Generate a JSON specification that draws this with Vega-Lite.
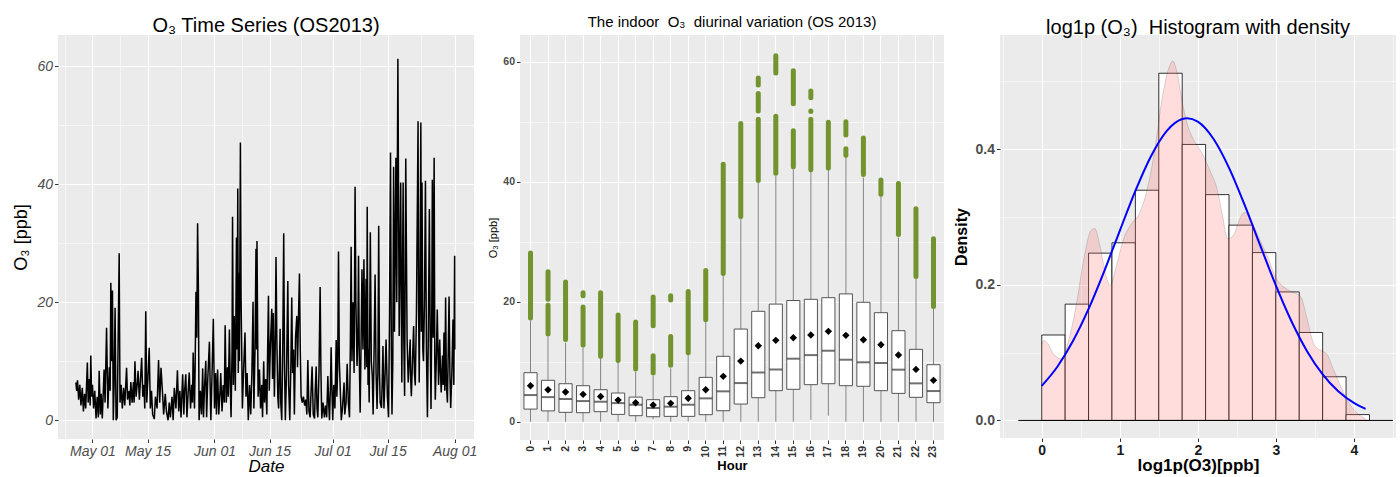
{
"$schema": "https://vega.github.io/schema/vega-lite/v6.json",
"padding": {"left": 12, "top": 15, "right": 0, "bottom": 0},
"bounds": "flush",
"spacing": 0,
"config": {
 "font": "Liberation Sans",
 "view": {"stroke": null},
 "axis": {"domain": false, "gridColor": "#FFFFFF", "tickColor": "#333333", "tickSize": 3.5, "labelColor": "#4D4D4D", "titleColor": "#000000", "labelFont": "Liberation Sans", "titleFont": "Liberation Sans", "labelPadding": 2, "labelOverlap": false},
 "title": {"font": "Liberation Sans", "fontWeight": "normal", "color": "#000000", "anchor": "middle"}
},
"datasets": {
 "ts": [
{"t":"2013-04-26T19:00","v":6.4},{"t":"2013-04-27T00:00","v":5.0},{"t":"2013-04-27T05:00","v":6.8},{"t":"2013-04-27T12:00","v":3.5},{"t":"2013-04-27T19:00","v":6.0},{"t":"2013-04-28T02:00","v":2.5},{"t":"2013-04-28T10:00","v":5.5},{"t":"2013-04-28T17:00","v":1.5},{"t":"2013-04-29T00:00","v":4.5},{"t":"2013-04-29T07:00","v":2.0},{"t":"2013-04-29T17:00","v":9.8},{"t":"2013-04-29T22:00","v":3.0},{"t":"2013-04-30T05:00","v":7.0},{"t":"2013-04-30T10:00","v":2.5},{"t":"2013-04-30T14:00","v":11.0},{"t":"2013-04-30T19:00","v":4.0},
{"t":"2013-05-01T00:00","v":6.0},{"t":"2013-05-01T07:00","v":2.0},{"t":"2013-05-01T14:00","v":5.0},{"t":"2013-05-01T22:00","v":0.3},{"t":"2013-05-02T05:00","v":4.0},{"t":"2013-05-02T12:00","v":0.5},{"t":"2013-05-02T17:00","v":8.4},{"t":"2013-05-03T00:00","v":1.0},{"t":"2013-05-03T05:00","v":4.5},{"t":"2013-05-03T12:00","v":0.3},{"t":"2013-05-03T23:00","v":8.6},{"t":"2013-05-04T05:00","v":3.0},{"t":"2013-05-04T14:00","v":15.7},{"t":"2013-05-04T22:00","v":2.0},{"t":"2013-05-05T07:00","v":9.0},{"t":"2013-05-05T12:00","v":5.0},{"t":"2013-05-05T16:00","v":23.3},{"t":"2013-05-05T22:00","v":10.0},{"t":"2013-05-06T02:00","v":22.0},{"t":"2013-05-06T07:00","v":0.0},{"t":"2013-05-06T12:00","v":6.0},{"t":"2013-05-06T18:00","v":19.1},{"t":"2013-05-07T00:00","v":0.0},{"t":"2013-05-07T07:00","v":0.5},{"t":"2013-05-07T19:00","v":28.3},{"t":"2013-05-08T00:00","v":3.0},{"t":"2013-05-08T07:00","v":6.0},{"t":"2013-05-08T14:00","v":2.0},{"t":"2013-05-08T22:00","v":5.5},{"t":"2013-05-09T05:00","v":2.5},{"t":"2013-05-09T16:00","v":8.9},{"t":"2013-05-09T22:00","v":3.5},{"t":"2013-05-10T07:00","v":5.0},{"t":"2013-05-10T12:00","v":2.5},{"t":"2013-05-10T18:00","v":6.5},{"t":"2013-05-11T02:00","v":3.0},{"t":"2013-05-11T10:00","v":6.5},{"t":"2013-05-11T14:00","v":3.0},{"t":"2013-05-11T19:00","v":10.0},{"t":"2013-05-12T02:00","v":4.0},{"t":"2013-05-12T10:00","v":6.5},{"t":"2013-05-12T14:00","v":8.4},{"t":"2013-05-12T22:00","v":3.5},{"t":"2013-05-13T05:00","v":7.0},{"t":"2013-05-13T12:00","v":10.6},{"t":"2013-05-13T19:00","v":4.0},{"t":"2013-05-14T02:00","v":6.0},{"t":"2013-05-14T07:00","v":2.0},{"t":"2013-05-14T13:00","v":18.5},{"t":"2013-05-14T19:00","v":3.0},{"t":"2013-05-15T02:00","v":7.0},{"t":"2013-05-15T10:00","v":12.3},{"t":"2013-05-15T17:00","v":2.0},{"t":"2013-05-16T00:00","v":5.0},{"t":"2013-05-16T07:00","v":1.0},{"t":"2013-05-16T17:00","v":0.2},{"t":"2013-05-17T00:00","v":4.0},{"t":"2013-05-17T10:00","v":2.0},{"t":"2013-05-17T19:00","v":10.2},{"t":"2013-05-18T02:00","v":3.0},{"t":"2013-05-18T10:00","v":8.9},{"t":"2013-05-18T19:00","v":4.7},{"t":"2013-05-19T02:00","v":1.0},{"t":"2013-05-19T12:00","v":4.5},{"t":"2013-05-19T19:00","v":1.5},{"t":"2013-05-20T05:00","v":0.0},{"t":"2013-05-20T12:00","v":3.0},{"t":"2013-05-20T19:00","v":0.5},{"t":"2013-05-21T05:00","v":4.0},{"t":"2013-05-21T12:00","v":0.0},{"t":"2013-05-21T19:00","v":5.5},{"t":"2013-05-22T05:00","v":2.0},{"t":"2013-05-22T14:00","v":8.5},{"t":"2013-05-22T22:00","v":1.5},{"t":"2013-05-23T05:00","v":5.0},{"t":"2013-05-23T12:00","v":0.5},{"t":"2013-05-23T22:00","v":7.8},{"t":"2013-05-24T05:00","v":1.0},{"t":"2013-05-24T10:00","v":5.0},{"t":"2013-05-24T17:00","v":7.8},{"t":"2013-05-25T00:00","v":0.5},{"t":"2013-05-25T07:00","v":4.5},{"t":"2013-05-25T14:00","v":8.1},{"t":"2013-05-25T22:00","v":2.0},{"t":"2013-05-26T05:00","v":6.0},{"t":"2013-05-26T10:00","v":3.0},{"t":"2013-05-26T14:00","v":11.5},{"t":"2013-05-26T22:00","v":2.0},{"t":"2013-05-27T02:00","v":9.0},{"t":"2013-05-27T07:00","v":21.8},{"t":"2013-05-27T12:00","v":14.0},{"t":"2013-05-27T17:00","v":33.4},{"t":"2013-05-27T22:00","v":22.0},{"t":"2013-05-28T02:00","v":0.0},{"t":"2013-05-28T10:00","v":5.0},{"t":"2013-05-28T17:00","v":1.0},{"t":"2013-05-29T00:00","v":8.8},{"t":"2013-05-29T05:00","v":0.5},{"t":"2013-05-29T12:00","v":6.0},{"t":"2013-05-29T19:00","v":10.1},{"t":"2013-05-30T00:00","v":0.5},{"t":"2013-05-30T07:00","v":7.0},{"t":"2013-05-30T17:00","v":13.3},{"t":"2013-05-31T00:00","v":2.0},{"t":"2013-05-31T02:00","v":0.0},{"t":"2013-05-31T10:00","v":9.0},{"t":"2013-05-31T17:00","v":17.2},
{"t":"2013-06-01T00:00","v":2.0},{"t":"2013-06-01T07:00","v":8.0},{"t":"2013-06-01T12:00","v":1.0},{"t":"2013-06-01T19:00","v":8.6},{"t":"2013-06-02T02:00","v":1.0},{"t":"2013-06-02T10:00","v":5.0},{"t":"2013-06-02T14:00","v":8.0},{"t":"2013-06-02T22:00","v":1.5},{"t":"2013-06-03T05:00","v":6.0},{"t":"2013-06-03T12:00","v":3.0},{"t":"2013-06-03T17:00","v":16.1},{"t":"2013-06-04T00:00","v":3.0},{"t":"2013-06-04T07:00","v":9.0},{"t":"2013-06-04T12:00","v":4.0},{"t":"2013-06-04T19:00","v":15.4},{"t":"2013-06-05T00:00","v":6.0},{"t":"2013-06-05T05:00","v":0.5},{"t":"2013-06-05T11:00","v":12.0},{"t":"2013-06-05T14:00","v":34.5},{"t":"2013-06-05T19:00","v":6.0},{"t":"2013-06-06T00:00","v":17.7},{"t":"2013-06-06T07:00","v":5.0},{"t":"2013-06-06T14:00","v":31.0},{"t":"2013-06-06T18:00","v":12.0},{"t":"2013-06-06T22:00","v":39.3},{"t":"2013-06-07T01:00","v":8.0},{"t":"2013-06-07T05:00","v":25.0},{"t":"2013-06-07T08:00","v":10.0},{"t":"2013-06-07T14:00","v":47.1},{"t":"2013-06-07T18:00","v":21.0},{"t":"2013-06-07T22:00","v":12.0},{"t":"2013-06-08T02:00","v":2.0},{"t":"2013-06-08T10:00","v":9.0},{"t":"2013-06-08T18:00","v":14.9},{"t":"2013-06-09T00:00","v":4.0},{"t":"2013-06-09T07:00","v":8.0},{"t":"2013-06-09T14:00","v":0.0},{"t":"2013-06-09T22:00","v":6.0},{"t":"2013-06-10T05:00","v":1.0},{"t":"2013-06-10T12:00","v":8.0},{"t":"2013-06-10T19:00","v":20.1},{"t":"2013-06-11T00:00","v":2.0},{"t":"2013-06-11T07:00","v":12.0},{"t":"2013-06-11T13:00","v":29.1},{"t":"2013-06-11T17:00","v":12.0},{"t":"2013-06-11T19:00","v":30.4},{"t":"2013-06-12T02:00","v":4.0},{"t":"2013-06-12T10:00","v":8.6},{"t":"2013-06-12T17:00","v":2.0},{"t":"2013-06-13T00:00","v":6.0},{"t":"2013-06-13T05:00","v":0.5},{"t":"2013-06-13T12:00","v":10.0},{"t":"2013-06-13T17:00","v":3.0},{"t":"2013-06-14T00:00","v":7.0},{"t":"2013-06-14T07:00","v":1.0},{"t":"2013-06-14T12:00","v":12.0},{"t":"2013-06-14T17:00","v":21.1},{"t":"2013-06-14T22:00","v":5.0},{"t":"2013-06-15T05:00","v":13.0},{"t":"2013-06-15T13:00","v":18.9},{"t":"2013-06-15T18:00","v":7.0},{"t":"2013-06-15T23:00","v":18.2},{"t":"2013-06-16T05:00","v":4.0},{"t":"2013-06-16T10:00","v":12.0},{"t":"2013-06-16T15:00","v":27.7},{"t":"2013-06-16T20:00","v":14.0},{"t":"2013-06-17T02:00","v":4.0},{"t":"2013-06-17T07:00","v":2.0},{"t":"2013-06-17T16:00","v":15.5},{"t":"2013-06-17T20:00","v":3.0},{"t":"2013-06-18T02:00","v":0.0},{"t":"2013-06-18T08:00","v":12.0},{"t":"2013-06-18T14:00","v":31.7},{"t":"2013-06-18T19:00","v":9.0},{"t":"2013-06-19T00:00","v":0.0},{"t":"2013-06-19T07:00","v":8.0},{"t":"2013-06-19T15:00","v":23.6},{"t":"2013-06-19T20:00","v":6.0},{"t":"2013-06-20T03:00","v":0.0},{"t":"2013-06-20T10:00","v":10.0},{"t":"2013-06-20T15:00","v":20.8},{"t":"2013-06-20T20:00","v":8.0},{"t":"2013-06-21T02:00","v":12.0},{"t":"2013-06-21T07:00","v":1.0},{"t":"2013-06-21T14:00","v":14.0},{"t":"2013-06-21T22:00","v":17.7},{"t":"2013-06-22T02:00","v":9.0},{"t":"2013-06-22T10:00","v":20.0},{"t":"2013-06-22T14:00","v":24.9},{"t":"2013-06-22T19:00","v":12.0},{"t":"2013-06-23T00:00","v":4.1},{"t":"2013-06-23T07:00","v":3.0},{"t":"2013-06-23T14:00","v":4.0},{"t":"2013-06-23T22:00","v":2.5},{"t":"2013-06-24T05:00","v":3.5},{"t":"2013-06-24T11:00","v":1.0},{"t":"2013-06-24T17:00","v":10.2},{"t":"2013-06-25T00:00","v":1.5},{"t":"2013-06-25T07:00","v":0.5},{"t":"2013-06-25T13:00","v":5.0},{"t":"2013-06-25T19:00","v":9.1},{"t":"2013-06-26T02:00","v":1.0},{"t":"2013-06-26T10:00","v":0.3},{"t":"2013-06-26T14:00","v":5.0},{"t":"2013-06-26T20:00","v":9.1},{"t":"2013-06-27T01:00","v":2.0},{"t":"2013-06-27T06:00","v":0.5},{"t":"2013-06-27T13:00","v":8.0},{"t":"2013-06-27T20:00","v":22.6},{"t":"2013-06-28T01:00","v":8.0},{"t":"2013-06-28T06:00","v":0.3},{"t":"2013-06-28T14:00","v":3.0},{"t":"2013-06-28T22:00","v":0.5},{"t":"2013-06-29T05:00","v":2.5},{"t":"2013-06-29T12:00","v":0.5},{"t":"2013-06-29T19:00","v":7.5},{"t":"2013-06-30T00:00","v":3.0},{"t":"2013-06-30T05:00","v":0.0},{"t":"2013-06-30T11:00","v":6.0},{"t":"2013-06-30T15:00","v":12.4},{"t":"2013-06-30T20:00","v":5.0},
{"t":"2013-07-01T01:00","v":0.0},{"t":"2013-07-01T07:00","v":6.0},{"t":"2013-07-01T14:00","v":2.0},{"t":"2013-07-01T22:00","v":13.6},{"t":"2013-07-02T02:00","v":4.0},{"t":"2013-07-02T07:00","v":9.0},{"t":"2013-07-02T12:00","v":28.6},{"t":"2013-07-02T17:00","v":10.0},{"t":"2013-07-02T23:00","v":5.0},{"t":"2013-07-03T05:00","v":0.0},{"t":"2013-07-03T12:00","v":2.0},{"t":"2013-07-03T22:00","v":6.4},{"t":"2013-07-04T02:00","v":1.0},{"t":"2013-07-04T10:00","v":3.0},{"t":"2013-07-04T17:00","v":9.6},{"t":"2013-07-05T00:00","v":3.0},{"t":"2013-07-05T07:00","v":0.5},{"t":"2013-07-05T12:00","v":12.0},{"t":"2013-07-05T17:00","v":29.4},{"t":"2013-07-05T22:00","v":10.0},{"t":"2013-07-06T05:00","v":20.0},{"t":"2013-07-06T11:00","v":8.0},{"t":"2013-07-06T17:00","v":39.6},{"t":"2013-07-06T22:00","v":20.0},{"t":"2013-07-07T05:00","v":9.2},{"t":"2013-07-07T10:00","v":14.0},{"t":"2013-07-07T14:00","v":27.9},{"t":"2013-07-07T19:00","v":10.0},{"t":"2013-07-08T00:00","v":1.3},{"t":"2013-07-08T05:00","v":12.0},{"t":"2013-07-08T11:00","v":25.6},{"t":"2013-07-08T17:00","v":12.0},{"t":"2013-07-08T23:00","v":27.3},{"t":"2013-07-09T05:00","v":8.6},{"t":"2013-07-09T12:00","v":24.0},{"t":"2013-07-09T16:00","v":9.0},{"t":"2013-07-09T19:00","v":36.2},{"t":"2013-07-10T00:00","v":6.0},{"t":"2013-07-10T02:00","v":12.0},{"t":"2013-07-10T07:00","v":3.0},{"t":"2013-07-10T14:00","v":31.9},{"t":"2013-07-10T20:00","v":10.0},{"t":"2013-07-11T02:00","v":7.5},{"t":"2013-07-11T07:00","v":1.0},{"t":"2013-07-11T13:00","v":12.0},{"t":"2013-07-11T19:00","v":24.7},{"t":"2013-07-12T01:00","v":8.0},{"t":"2013-07-12T07:00","v":1.9},{"t":"2013-07-12T12:00","v":8.0},{"t":"2013-07-12T17:00","v":33.0},{"t":"2013-07-12T22:00","v":8.0},{"t":"2013-07-13T02:00","v":3.0},{"t":"2013-07-13T10:00","v":2.1},{"t":"2013-07-13T14:00","v":6.0},{"t":"2013-07-13T19:00","v":12.6},{"t":"2013-07-14T01:00","v":2.0},{"t":"2013-07-14T07:00","v":7.0},{"t":"2013-07-14T14:00","v":13.7},{"t":"2013-07-14T22:00","v":4.0},{"t":"2013-07-15T05:00","v":0.5},{"t":"2013-07-15T11:00","v":18.0},{"t":"2013-07-15T17:00","v":45.4},{"t":"2013-07-15T22:00","v":12.0},{"t":"2013-07-16T02:00","v":1.0},{"t":"2013-07-16T07:00","v":10.0},{"t":"2013-07-16T12:00","v":43.0},{"t":"2013-07-16T17:00","v":15.0},{"t":"2013-07-17T02:00","v":44.5},{"t":"2013-07-17T07:00","v":20.0},{"t":"2013-07-17T14:00","v":61.3},{"t":"2013-07-17T22:00","v":14.3},{"t":"2013-07-18T02:00","v":25.0},{"t":"2013-07-18T07:00","v":40.3},{"t":"2013-07-18T14:00","v":6.4},{"t":"2013-07-18T22:00","v":40.3},{"t":"2013-07-19T02:00","v":14.0},{"t":"2013-07-19T07:00","v":4.1},{"t":"2013-07-19T14:00","v":44.4},{"t":"2013-07-19T22:00","v":14.0},{"t":"2013-07-20T05:00","v":6.4},{"t":"2013-07-20T11:00","v":10.0},{"t":"2013-07-20T17:00","v":13.7},{"t":"2013-07-20T20:00","v":7.0},{"t":"2013-07-21T00:00","v":4.1},{"t":"2013-07-21T07:00","v":10.0},{"t":"2013-07-21T14:00","v":16.0},{"t":"2013-07-21T19:00","v":8.0},{"t":"2013-07-22T00:00","v":5.9},{"t":"2013-07-22T07:00","v":18.0},{"t":"2013-07-22T17:00","v":50.7},{"t":"2013-07-22T20:00","v":20.0},{"t":"2013-07-23T00:00","v":6.4},{"t":"2013-07-23T05:00","v":25.0},{"t":"2013-07-23T10:00","v":50.5},{"t":"2013-07-23T13:00","v":15.0},{"t":"2013-07-23T17:00","v":40.3},{"t":"2013-07-23T22:00","v":12.0},{"t":"2013-07-24T02:00","v":10.0},{"t":"2013-07-24T08:00","v":20.0},{"t":"2013-07-24T14:00","v":40.6},{"t":"2013-07-24T20:00","v":12.0},{"t":"2013-07-25T02:00","v":0.5},{"t":"2013-07-25T08:00","v":16.0},{"t":"2013-07-25T14:00","v":35.8},{"t":"2013-07-25T19:00","v":14.0},{"t":"2013-07-26T00:00","v":1.9},{"t":"2013-07-26T05:00","v":20.0},{"t":"2013-07-26T08:00","v":40.8},{"t":"2013-07-26T13:00","v":14.0},{"t":"2013-07-26T19:00","v":44.5},{"t":"2013-07-26T23:00","v":10.0},{"t":"2013-07-27T02:00","v":3.5},{"t":"2013-07-27T08:00","v":10.0},{"t":"2013-07-27T14:00","v":18.8},{"t":"2013-07-27T22:00","v":6.0},{"t":"2013-07-28T05:00","v":13.7},{"t":"2013-07-28T10:00","v":8.0},{"t":"2013-07-28T14:00","v":4.7},{"t":"2013-07-28T22:00","v":11.0},{"t":"2013-07-29T02:00","v":6.0},{"t":"2013-07-29T07:00","v":14.9},{"t":"2013-07-29T12:00","v":5.0},{"t":"2013-07-29T17:00","v":20.8},{"t":"2013-07-29T22:00","v":6.0},{"t":"2013-07-30T04:00","v":3.0},{"t":"2013-07-30T08:00","v":10.0},{"t":"2013-07-30T14:00","v":21.0},{"t":"2013-07-30T19:00","v":8.0},{"t":"2013-07-31T00:00","v":2.1},{"t":"2013-07-31T07:00","v":8.0},{"t":"2013-07-31T14:00","v":17.1},{"t":"2013-07-31T19:00","v":6.0},{"t":"2013-08-01T00:00","v":27.9},{"t":"2013-08-01T01:00","v":12.0}
 ],
 "box": [
{"hour":0,"lo":0,"q1":2.1,"med":4.44,"q3":8.17,"hi":16.9,"mean":6.0},
{"hour":1,"lo":0,"q1":1.8,"med":4.1,"q3":6.9,"hi":14.2,"mean":5.33},
{"hour":2,"lo":0,"q1":1.56,"med":3.78,"q3":6.33,"hi":13.2,"mean":4.94},
{"hour":3,"lo":0,"q1":1.5,"med":3.44,"q3":6.0,"hi":12.4,"mean":4.56},
{"hour":4,"lo":0,"q1":1.67,"med":3.33,"q3":5.33,"hi":10.6,"mean":4.2},
{"hour":5,"lo":0,"q1":1.22,"med":3.1,"q3":4.78,"hi":9.8,"mean":3.6},
{"hour":6,"lo":0,"q1":1.0,"med":2.83,"q3":4.1,"hi":8.33,"mean":3.17},
{"hour":7,"lo":0.4,"q1":0.83,"med":2.28,"q3":3.67,"hi":7.67,"mean":2.78},
{"hour":8,"lo":0,"q1":0.89,"med":2.5,"q3":4.17,"hi":8.9,"mean":3.06},
{"hour":9,"lo":0,"q1":0.89,"med":2.83,"q3":5.17,"hi":11.1,"mean":3.9},
{"hour":10,"lo":0,"q1":1.17,"med":3.89,"q3":7.39,"hi":16.6,"mean":5.33},
{"hour":11,"lo":0,"q1":1.83,"med":5.06,"q3":10.9,"hi":24.3,"mean":7.56},
{"hour":12,"lo":0,"q1":2.94,"med":6.44,"q3":15.44,"hi":33.9,"mean":10.1},
{"hour":13,"lo":0,"q1":4.0,"med":8.2,"q3":18.4,"hi":39.8,"mean":12.67},
{"hour":14,"lo":0,"q1":5.17,"med":8.72,"q3":19.6,"hi":41.0,"mean":13.56},
{"hour":15,"lo":0,"q1":5.4,"med":10.5,"q3":20.2,"hi":42.1,"mean":14.0},
{"hour":16,"lo":0.3,"q1":6.17,"med":11.1,"q3":20.4,"hi":41.7,"mean":14.44},
{"hour":17,"lo":1.0,"q1":6.33,"med":11.83,"q3":20.67,"hi":42.0,"mean":15.06},
{"hour":18,"lo":0,"q1":6.0,"med":10.33,"q3":21.3,"hi":44.3,"mean":14.39},
{"hour":19,"lo":0,"q1":5.9,"med":9.9,"q3":19.9,"hi":40.7,"mean":13.67},
{"hour":20,"lo":0,"q1":5.17,"med":9.78,"q3":18.17,"hi":37.6,"mean":12.83},
{"hour":21,"lo":0,"q1":4.72,"med":8.67,"q3":15.17,"hi":30.7,"mean":11.11},
{"hour":22,"lo":0,"q1":4.06,"med":6.39,"q3":12.06,"hi":23.8,"mean":8.72},
{"hour":23,"lo":0,"q1":3.17,"med":5.11,"q3":9.5,"hi":18.9,"mean":6.89}
 ],
 "outl": [
{"hour":0,"a":17.3,"b":28.1},{"hour":1,"a":14.6,"b":19.4},{"hour":1,"a":20.4,"b":25.0},{"hour":2,"a":13.7,"b":23.3},{"hour":3,"a":12.8,"b":19.1},{"hour":3,"a":21.0,"b":21.5},{"hour":4,"a":10.9,"b":21.5},{"hour":5,"a":10.2,"b":17.8},{"hour":6,"a":8.8,"b":16.6},{"hour":7,"a":8.1,"b":11.0},{"hour":7,"a":16.0,"b":20.8},{"hour":8,"a":9.4,"b":14.2},{"hour":8,"a":20.3,"b":21.0},{"hour":9,"a":11.5,"b":21.7},{"hour":10,"a":17.0,"b":25.2},{"hour":11,"a":24.7,"b":42.9},{"hour":12,"a":34.2,"b":49.7},{"hour":13,"a":40.2,"b":50.4},{"hour":13,"a":51.8,"b":54.7},{"hour":13,"a":56.1,"b":57.3},{"hour":14,"a":41.4,"b":50.9},{"hour":14,"a":58.1,"b":61.0},{"hour":15,"a":42.5,"b":48.5},{"hour":15,"a":53.0,"b":58.5},{"hour":16,"a":42.0,"b":50.4},{"hour":16,"a":51.7,"b":51.8},{"hour":16,"a":54.0,"b":55.1},{"hour":17,"a":42.3,"b":49.9},{"hour":18,"a":44.4,"b":45.5},{"hour":18,"a":47.8,"b":50.0},{"hour":19,"a":41.2,"b":47.3},{"hour":20,"a":37.9,"b":40.3},{"hour":21,"a":31.2,"b":39.7},{"hour":22,"a":24.2,"b":35.5},{"hour":23,"a":19.2,"b":30.5}
 ],
 "hist": [
{"x":0.0,"xe":0.3,"y":0.126},{"x":0.3,"xe":0.6,"y":0.1715},{"x":0.6,"xe":0.9,"y":0.2467},{"x":0.9,"xe":1.2,"y":0.262},{"x":1.2,"xe":1.5,"y":0.3395},{"x":1.5,"xe":1.8,"y":0.512},{"x":1.8,"xe":2.1,"y":0.407},{"x":2.1,"xe":2.4,"y":0.333},{"x":2.4,"xe":2.7,"y":0.288},{"x":2.7,"xe":3.0,"y":0.2475},{"x":3.0,"xe":3.3,"y":0.1895},{"x":3.3,"xe":3.6,"y":0.1297},{"x":3.6,"xe":3.9,"y":0.0644},{"x":3.9,"xe":4.2,"y":0.0086}
 ],
 "dens": [
{"x":0.0,"y":0.112},{"x":0.03,"y":0.118},{"x":0.08,"y":0.113},{"x":0.15,"y":0.098},{"x":0.25,"y":0.091},{"x":0.35,"y":0.12},{"x":0.45,"y":0.175},{"x":0.55,"y":0.245},{"x":0.63,"y":0.28},{"x":0.68,"y":0.283},{"x":0.75,"y":0.255},{"x":0.82,"y":0.215},{"x":0.88,"y":0.199},{"x":0.95,"y":0.225},{"x":1.05,"y":0.268},{"x":1.15,"y":0.29},{"x":1.25,"y":0.305},{"x":1.35,"y":0.34},{"x":1.45,"y":0.4},{"x":1.55,"y":0.48},{"x":1.63,"y":0.52},{"x":1.68,"y":0.53},{"x":1.74,"y":0.51},{"x":1.8,"y":0.47},{"x":1.87,"y":0.435},{"x":1.95,"y":0.413},{"x":2.05,"y":0.395},{"x":2.15,"y":0.37},{"x":2.25,"y":0.34},{"x":2.32,"y":0.3},{"x":2.38,"y":0.268},{"x":2.45,"y":0.272},{"x":2.55,"y":0.3},{"x":2.6,"y":0.307},{"x":2.68,"y":0.295},{"x":2.8,"y":0.265},{"x":2.9,"y":0.24},{"x":3.0,"y":0.21},{"x":3.1,"y":0.197},{"x":3.2,"y":0.19},{"x":3.32,"y":0.182},{"x":3.4,"y":0.15},{"x":3.49,"y":0.112},{"x":3.58,"y":0.103},{"x":3.66,"y":0.097},{"x":3.72,"y":0.08},{"x":3.79,"y":0.061},{"x":3.88,"y":0.038},{"x":3.96,"y":0.022},{"x":4.05,"y":0.01},{"x":4.15,"y":0.0025}
 ],
 "norm": [
{"x":0.0,"y":0.051},{"x":0.2,"y":0.0792},{"x":0.4,"y":0.117},{"x":0.6,"y":0.1644},{"x":0.8,"y":0.2199},{"x":1.0,"y":0.2797},{"x":1.2,"y":0.3385},{"x":1.4,"y":0.3896},{"x":1.6,"y":0.4267},{"x":1.8,"y":0.4446},{"x":1.864,"y":0.4457},{"x":2.0,"y":0.4406},{"x":2.2,"y":0.4154},{"x":2.4,"y":0.3725},{"x":2.6,"y":0.3178},{"x":2.8,"y":0.258},{"x":3.0,"y":0.1991},{"x":3.2,"y":0.1463},{"x":3.4,"y":0.1022},{"x":3.6,"y":0.0679},{"x":3.8,"y":0.043},{"x":4.0,"y":0.0258},{"x":4.15,"y":0.0171}
 ],
 "hl": [{"x":-0.3,"xe":4.5,"y":0}]
},
"hconcat": [
 {
  "width": 416, "height": 404,
  "view": {"fill": "#EBEBEB", "stroke": null},
  "title": {"text": "O₃ Time Series (OS2013)", "fontSize": 20, "offset": -1},
  "data": {"name": "ts"},
  "mark": {"type": "line", "color": "#000000", "strokeWidth": 1.5},
  "encoding": {
   "x": {"field": "t", "type": "temporal",
    "scale": {"domain": [{"year":2013,"month":4,"date":22,"hours":6},{"year":2013,"month":8,"date":5,"hours":22}]},
    "axis": {
     "values": [{"year":2013,"month":4,"date":24},{"year":2013,"month":5,"date":1},{"year":2013,"month":5,"date":8},{"year":2013,"month":5,"date":15},{"year":2013,"month":5,"date":23,"hours":12},{"year":2013,"month":6,"date":1},{"year":2013,"month":6,"date":8},{"year":2013,"month":6,"date":15},{"year":2013,"month":6,"date":23},{"year":2013,"month":7,"date":1},{"year":2013,"month":7,"date":8},{"year":2013,"month":7,"date":15},{"year":2013,"month":7,"date":23,"hours":12},{"year":2013,"month":8,"date":1}],
     "labelExpr": "(date(datum.value) == 1 || date(datum.value) == 15) ? timeFormat(datum.value, '%b %d') : ''",
     "gridWidth": {"condition": {"test": "date(datum.value) == 1 || date(datum.value) == 15", "value": 1.1}, "value": 0.55},
     "tickOpacity": {"condition": {"test": "date(datum.value) == 1 || date(datum.value) == 15", "value": 1}, "value": 0},
     "title": "Date", "titleFontStyle": "italic", "titleFontSize": 17, "titleFontWeight": "normal", "titlePadding": 0,
     "labelFontStyle": "italic", "labelFontSize": 14, "labelFlush": false
    }},
   "y": {"field": "v", "type": "quantitative",
    "scale": {"domain": [-3.17, 65.32], "nice": false, "zero": false},
    "axis": {
     "values": [0,10,20,30,40,50,60],
     "labelExpr": "datum.value % 20 == 0 ? datum.label : ''",
     "gridWidth": {"condition": {"test": "datum.value % 20 == 0", "value": 1.1}, "value": 0.55},
     "tickOpacity": {"condition": {"test": "datum.value % 20 == 0", "value": 1}, "value": 0},
     "title": "O₃ [ppb]", "titleFontSize": 18, "titleFontWeight": "normal", "titlePadding": 6,
     "labelFontStyle": "italic", "labelFontSize": 14
    }}
  }
 },
 {"width": 46, "height": 10, "data": {"values": []}, "mark": {"type": "point", "opacity": 0}, "view": {"stroke": null}},
 {
  "width": 424, "height": 405,
  "view": {"fill": "#EBEBEB", "stroke": null},
  "title": {"text": "The indoor \u00a0O₃ \u00a0diurinal variation (OS 2013)", "fontSize": 15, "offset": 5},
  "encoding": {
   "x": {"field": "hour", "type": "ordinal",
    "scale": {"paddingInner": 0.25, "paddingOuter": 0.225},
    "axis": {"grid": true, "gridWidth": 1.1, "bandPosition": 0.5, "labelAngle": 270, "labelFontWeight": "bold", "labelFontSize": 10.5, "labelColor": "#333333",
     "title": "Hour", "titleFontWeight": "bold", "titleFontSize": 13, "titlePadding": 2}}
  },
  "layer": [
   {"data": {"name": "box"}, "mark": {"type": "rule", "color": "#4D4D4D", "strokeWidth": 0.7},
    "encoding": {"y": {"field": "lo", "type": "quantitative", "scale": {"domain": [-3.05, 64.45], "nice": false, "zero": false},
      "axis": {"values": [0,10,20,30,40,50,60], "labelExpr": "datum.value % 20 == 0 ? datum.label : ''",
       "gridWidth": {"condition": {"test": "datum.value % 20 == 0", "value": 1.1}, "value": 0.55},
       "tickOpacity": {"condition": {"test": "datum.value % 20 == 0", "value": 1}, "value": 0},
       "title": "O₃ [ppb]", "titleFontSize": 11, "titleFontWeight": "normal", "titlePadding": 4,
       "labelFontWeight": "bold", "labelFontSize": 10.5}},
     "y2": {"field": "hi"}}},
   {"data": {"name": "outl"}, "mark": {"type": "rule", "color": "#6B8E23", "strokeWidth": 5, "strokeCap": "round", "opacity": 0.95},
    "encoding": {"y": {"field": "a", "type": "quantitative"}, "y2": {"field": "b"}}},
   {"data": {"name": "box"}, "mark": {"type": "bar", "fill": "#FFFFFF", "stroke": "#555555", "strokeWidth": 1},
    "encoding": {"y": {"field": "q1", "type": "quantitative"}, "y2": {"field": "q3"}}},
   {"data": {"name": "box"}, "mark": {"type": "tick", "color": "#333333", "thickness": 2, "size": 13},
    "encoding": {"y": {"field": "med", "type": "quantitative"}}},
   {"data": {"name": "box"}, "mark": {"type": "point", "shape": "diamond", "filled": true, "color": "#000000", "size": 55, "opacity": 1},
    "encoding": {"y": {"field": "mean", "type": "quantitative"}}}
  ]
 },
 {"width": 56, "height": 10, "data": {"values": []}, "mark": {"type": "point", "opacity": 0}, "view": {"stroke": null}},
 {
  "width": 396, "height": 403,
  "view": {"fill": "#EBEBEB", "stroke": null},
  "title": {"text": "log1p (O₃) \u00a0Histogram with density", "fontSize": 20, "offset": -3},
  "encoding": {
   "x": {"field": "x", "type": "quantitative", "scale": {"domain": [-0.535, 4.54], "nice": false, "zero": false},
    "axis": {"grid": true, "values": [-0.5,0,0.5,1,1.5,2,2.5,3,3.5,4,4.5], "format": ".0f", "labelExpr": "round(datum.value*2) % 2 == 0 ? datum.label : ''",
     "gridWidth": {"condition": {"test": "round(datum.value*2) % 2 == 0", "value": 1.1}, "value": 0.55},
     "tickOpacity": {"condition": {"test": "round(datum.value*2) % 2 == 0", "value": 1}, "value": 0},
     "title": "log1p(O3)[ppb]", "titleFontWeight": "bold", "titleFontSize": 17, "titlePadding": 0,
     "labelFontWeight": "bold", "labelFontSize": 14, "labelColor": "#1A1A1A", "labelFlush": false}},
   "y": {"field": "y", "type": "quantitative", "scale": {"domain": [-0.0259, 0.5684], "nice": false, "zero": false},
    "axis": {"grid": true, "values": [0,0.1,0.2,0.3,0.4,0.5], "format": ".1f", "labelExpr": "round(datum.value*10) % 2 == 0 ? datum.label : ''",
     "gridWidth": {"condition": {"test": "round(datum.value*10) % 2 == 0", "value": 1.1}, "value": 0.55},
     "tickOpacity": {"condition": {"test": "round(datum.value*10) % 2 == 0", "value": 1}, "value": 0},
     "title": "Density", "titleFontWeight": "bold", "titleFontSize": 16, "titlePadding": 6,
     "labelFontWeight": "bold", "labelFontSize": 14}}
  },
  "layer": [
   {"data": {"name": "hist"}, "mark": {"type": "bar", "fill": "#FFFFFF", "stroke": "#000000", "strokeWidth": 0.8},
    "encoding": {"x2": {"field": "xe"}, "y2": {"datum": 0}}},
   {"data": {"name": "dens"}, "mark": {"type": "area", "color": "#FF6666", "fillOpacity": 0.22, "interpolate": "monotone"}, "encoding": {}},
   {"data": {"name": "dens"}, "mark": {"type": "line", "color": "#000000", "opacity": 0.18, "strokeWidth": 0.8, "interpolate": "monotone"}, "encoding": {}},
   {"data": {"name": "norm"}, "mark": {"type": "line", "color": "#0000FF", "strokeWidth": 2, "interpolate": "monotone"}, "encoding": {}},
   {"data": {"name": "hl"}, "mark": {"type": "rule", "color": "#000000", "strokeWidth": 1},
    "encoding": {"x2": {"field": "xe"}}}
  ]
 }
]
}
